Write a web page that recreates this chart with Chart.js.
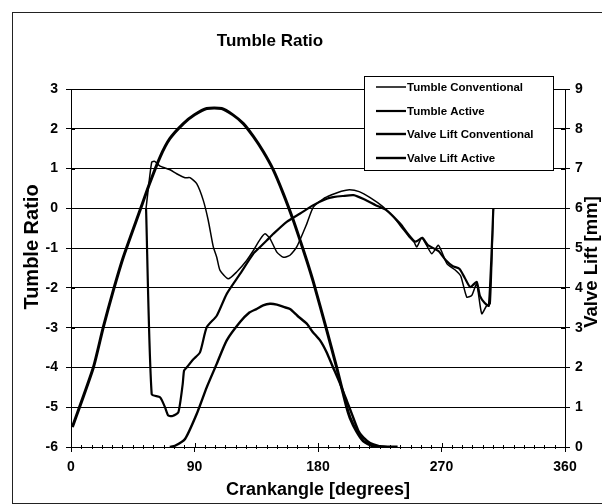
<!DOCTYPE html>
<html>
<head>
<meta charset="utf-8">
<script src="https://cdn.jsdelivr.net/npm/chart.js@4.4.1/dist/chart.umd.min.js"></script>
<style>
  html, body { margin: 0; padding: 0; background: #fff; }
  #wrap { position: relative; width: 602px; height: 504px; }
  canvas { display: block; }
</style>
</head>
<body>
<div id="wrap"><canvas id="c" width="602" height="504"></canvas></div>
<script>
// ---- Data ----
const chartTitle = 'Tumble Ratio';
const xTitle = 'Crankangle [degrees]';
const yLeftTitle = 'Tumble Ratio';
const yRightTitle = 'Valve Lift [mm]';
const seriesNames = ['Tumble Conventional', 'Tumble Active', 'Valve Lift Conventional', 'Valve Lift Active'];

// Tumble Conventional (left axis)
const tcAngle = [54.7, 58.8, 61, 64.9, 72.2, 77, 83.1, 86.7, 91.6, 96.4, 100, 103.7, 106.2, 108.6, 114.6, 120.7, 128, 132.9, 137.8, 141.4, 145, 150, 154.7, 159.6, 164.5, 171.8, 176.6, 183.9, 190, 197, 203, 210, 218, 227, 235, 241, 246, 250, 252, 255.6, 259, 262.9, 267.8, 273.9, 280, 284, 288.4, 292, 295.6, 299.3, 303, 305.5, 307.8];
const tcValue = [0, 1.16, 1.18, 1.06, 0.97, 0.87, 0.77, 0.77, 0.62, 0.20, -0.30, -0.97, -1.23, -1.56, -1.77, -1.60, -1.31, -1.06, -0.78, -0.64, -0.76, -1.10, -1.23, -1.18, -0.97, -0.39, 0.03, 0.24, 0.34, 0.43, 0.47, 0.42, 0.27, 0.05, -0.22, -0.48, -0.70, -0.85, -0.97, -0.74, -0.92, -1.14, -0.93, -1.39, -1.55, -1.70, -2.23, -2.19, -1.90, -2.65, -2.44, -2.40, 0];

// Tumble Active (left axis)
const taAngle = [54.7, 58.8, 64.9, 68.5, 70.9, 74, 78.2, 81.4, 82.4, 84.3, 89, 94, 98.9, 106.2, 113.5, 123.2, 132.9, 137.8, 142.6, 147.5, 157.2, 167, 176.6, 186.4, 191, 198, 206, 214, 222, 230, 240, 245, 250.7, 254, 256, 260, 264, 268, 273, 278, 283, 287, 291, 295.6, 298, 301.5, 304.5, 307.8];
const taValue = [0, -4.67, -4.75, -5.0, -5.21, -5.22, -5.13, -4.42, -4.08, -4.0, -3.8, -3.62, -2.99, -2.70, -2.15, -1.65, -1.14, -0.97, -0.81, -0.64, -0.34, -0.13, 0.08, 0.24, 0.28, 0.31, 0.33, 0.22, 0.08, -0.05, -0.39, -0.62, -0.84, -0.78, -0.74, -0.92, -1.00, -1.08, -1.30, -1.45, -1.52, -1.75, -1.98, -1.85, -2.20, -2.38, -2.45, 0];

// Valve Lift Conventional (right axis, mm)
const vlcAngle = [1, 16.3, 23.5, 30.8, 38.1, 50.3, 57, 64.9, 72, 81.9, 90, 98.9, 109.8, 118, 125.6, 133, 140.2, 147.5, 154.7, 162, 167, 171.8, 176.6, 186.4, 193.6, 200.9, 203.3, 208, 213, 218, 222, 238];
const vlcValue = [0.5, 2.0, 3.01, 3.93, 4.77, 5.95, 6.6, 7.29, 7.75, 8.13, 8.35, 8.51, 8.51, 8.35, 8.13, 7.8, 7.42, 6.96, 6.37, 5.70, 5.19, 4.69, 4.15, 2.93, 2.0, 1.0, 0.74, 0.4, 0.15, 0.05, 0, 0];

// Valve Lift Active (right axis, mm)
const vlaAngle = [72, 75.8, 83.1, 91.6, 98.9, 106.2, 113.5, 123.2, 130, 135.3, 140, 145, 150, 155, 159.6, 165, 171.8, 176, 181.5, 186, 191, 196, 201, 205, 209.4, 213, 218, 224, 230];
const vlaValue = [0, 0.03, 0.2, 0.83, 1.5, 2.09, 2.68, 3.14, 3.38, 3.47, 3.56, 3.6, 3.58, 3.52, 3.47, 3.3, 3.1, 2.9, 2.68, 2.4, 2.0, 1.6, 1.16, 0.8, 0.41, 0.24, 0.1, 0.03, 0];

// Axis ticks
const xTicks = [0, 90, 180, 270, 360];
const yLeftTicks = [-6, -5, -4, -3, -2, -1, 0, 1, 2, 3];
const yRightTicks = [0, 1, 2, 3, 4, 5, 6, 7, 8, 9];

// ---- Build ----
const toPts = (xs, ys) => xs.map((x, i) => ({ x: x, y: ys[i] }));
const FONT = '"Liberation Sans", Arial, Helvetica, sans-serif';

const datasets = [
  { label: seriesNames[0], data: toPts(tcAngle, tcValue), yAxisID: 'y', borderColor: '#000', borderWidth: 1.5, pointRadius: 0, tension: 0.2 },
  { label: seriesNames[1], data: toPts(taAngle, taValue), yAxisID: 'y', borderColor: '#000', borderWidth: 2.2, pointRadius: 0, tension: 0.2 },
  { label: seriesNames[2], data: toPts(vlcAngle, vlcValue), yAxisID: 'y2', borderColor: '#000', borderWidth: 3, pointRadius: 0, tension: 0.2 },
  { label: seriesNames[3], data: toPts(vlaAngle, vlaValue), yAxisID: 'y2', borderColor: '#000', borderWidth: 2.4, pointRadius: 0, tension: 0.2 }
];

const extras = {
  id: 'extras',
  afterDraw(chart) {
    const ctx = chart.ctx;
    const a = chart.chartArea;
    const xs = chart.scales.x, yl = chart.scales.y, yr = chart.scales.y2;
    ctx.save();
    ctx.strokeStyle = '#000';
    ctx.lineWidth = 1;
    // inside parts of major ticks (crossing tick marks)
    ctx.beginPath();
    yLeftTicks.forEach(v => { const y = Math.round(yl.getPixelForValue(v)) + 0.5; ctx.moveTo(a.left, y); ctx.lineTo(a.left + 4, y); });
    yRightTicks.forEach(v => { const y = Math.round(yr.getPixelForValue(v)) + 0.5; ctx.moveTo(a.right - 4, y); ctx.lineTo(a.right, y); });
    xTicks.forEach(v => { const x = Math.round(xs.getPixelForValue(v)) + 0.5; ctx.moveTo(x, a.bottom); ctx.lineTo(x, a.bottom - 4); });
    // minor ticks on x axis
    for (let d = 7.5; d < 360; d += 7.5) {
      if (d % 90 === 0) continue;
      const x = Math.round(xs.getPixelForValue(d)) + 0.5;
      ctx.moveTo(x, a.bottom - 2); ctx.lineTo(x, a.bottom + 2);
    }
    ctx.stroke();

    // Legend box
    const lx = 364, ly = 76, lw = 189, lh = 94;
    ctx.fillStyle = '#fff';
    ctx.fillRect(lx, ly, lw, lh);
    ctx.strokeRect(lx + 0.5, ly + 0.5, lw, lh);
    const rows = [87, 111, 134, 158];
    ctx.font = 'bold 11.5px ' + FONT;
    ctx.textBaseline = 'middle';
    ctx.textAlign = 'left';
    chart.data.datasets.forEach((ds, i) => {
      ctx.beginPath();
      ctx.lineWidth = Math.min(ds.borderWidth, 2.4);
      ctx.moveTo(376, rows[i]);
      ctx.lineTo(406, rows[i]);
      ctx.stroke();
      ctx.fillStyle = '#000';
      ctx.fillText(ds.label, 407, rows[i] + 1);
    });

    // Chart title
    ctx.fillStyle = '#000';
    ctx.textAlign = 'center';
    ctx.textBaseline = 'middle';
    ctx.font = 'bold 17px ' + FONT;
    ctx.fillText(chartTitle, 270, 41);

    // Vertical axis titles, both reading bottom-to-top
    ctx.save();
    ctx.translate(32, 247);
    ctx.rotate(-Math.PI / 2);
    ctx.font = 'bold 20px ' + FONT;
    ctx.fillText(yLeftTitle, 0, 0);
    ctx.restore();
    ctx.save();
    ctx.translate(592, 262);
    ctx.rotate(-Math.PI / 2);
    ctx.font = 'bold 18.5px ' + FONT;
    ctx.fillText(yRightTitle, 0, 0);
    ctx.restore();

    // outer frame
    ctx.lineWidth = 1;
    ctx.strokeStyle = '#222';
    ctx.strokeRect(12.5, 12.5, 700, 491);
    ctx.restore();
  }
};

new Chart(document.getElementById('c'), {
  type: 'line',
  data: { datasets: datasets },
  plugins: [extras],
  options: {
    responsive: false,
    animation: false,
    events: [],
    layout: { padding: { top: 89, left: 0, right: 0, bottom: 0 } },
    plugins: {
      legend: { display: false },
      tooltip: { enabled: false },
      title: { display: false }
    },
    scales: {
      x: {
        type: 'linear', min: 0, max: 360,
        afterBuildTicks(s) { s.ticks = xTicks.map(v => ({ value: v })); },
        ticks: { color: '#000', font: { family: FONT, size: 14, weight: 'bold' }, padding: 7, maxRotation: 0 },
        grid: { drawOnChartArea: false, color: '#000', tickLength: 5 },
        border: { color: '#000', width: 1 },
        title: { display: true, text: xTitle, color: '#000', font: { family: FONT, size: 18, weight: 'bold', lineHeight: 1.2 }, padding: { top: 0, bottom: 3 } },
        afterFit(s) { s.height = 57; }
      },
      y: {
        position: 'left', min: -6, max: 3,
        afterBuildTicks(s) { s.ticks = yLeftTicks.map(v => ({ value: v })); },
        ticks: { color: '#000', font: { family: FONT, size: 14, weight: 'bold' }, padding: 8 },
        grid: { color: '#000', lineWidth: 1, tickLength: 5 },
        border: { color: '#000', width: 1 },
        afterFit(s) { s.width = 71; }
      },
      y2: {
        position: 'right', min: 0, max: 9,
        afterBuildTicks(s) { s.ticks = yRightTicks.map(v => ({ value: v })); },
        ticks: { color: '#000', font: { family: FONT, size: 14, weight: 'bold' }, padding: 5 },
        grid: { drawOnChartArea: false, color: '#000', tickLength: 5 },
        border: { color: '#000', width: 1 },
        afterFit(s) { s.width = 37; }
      }
    }
  }
});
</script>
</body>
</html>
